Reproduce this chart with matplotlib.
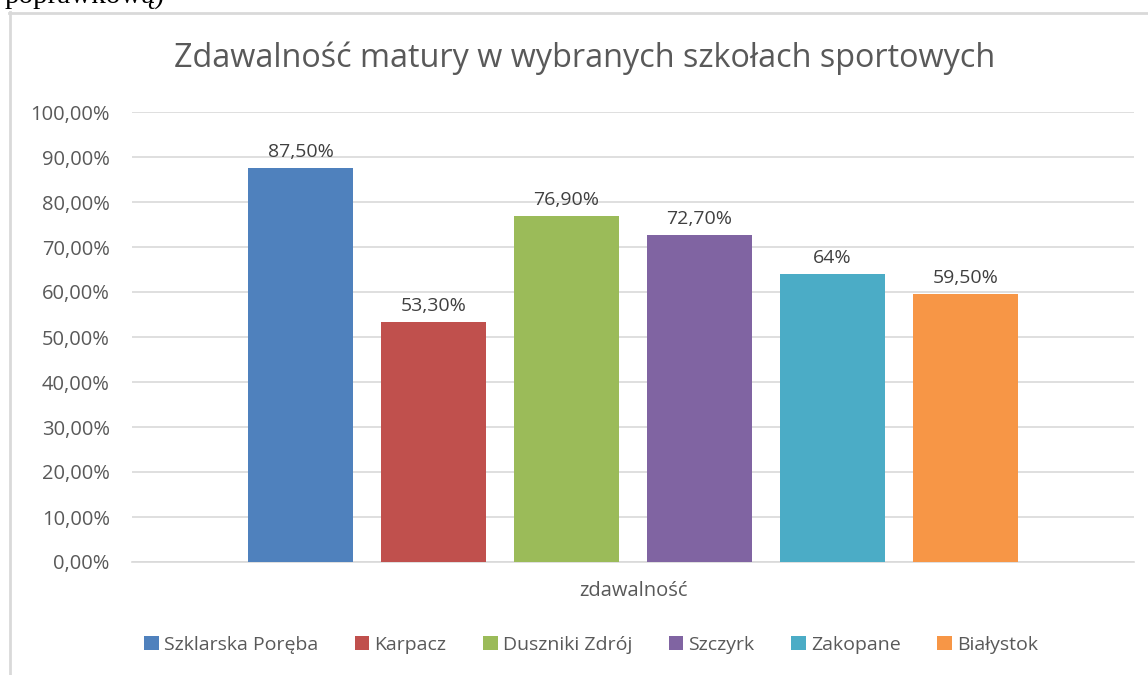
from matplotlib import pyplot as plt
from matplotlib.lines import Line2D
from matplotlib.patches import Patch
from matplotlib.ticker import FuncFormatter
import numpy as np

# data
schools = ['Szklarska Poręba', 'Karpacz', 'Duszniki Zdrój', 'Szczyrk', 'Zakopane', 'Białystok']
pass_rate = [0.875, 0.533, 0.769, 0.727, 0.64, 0.595]
value_labels = ['87,50%', '53,30%', '76,90%', '72,70%', '64%', '59,50%']
category = 'zdawalność'
colors = ['#4F81BD', '#C0504D', '#9BBB59', '#8064A2', '#4BACC6', '#F79646']

W, H = 1148, 675
txt = '#595959'
font = ['Open Sans', 'DejaVu Sans']

fig = plt.figure(figsize=(W / 100, H / 100), dpi=100)
ax = fig.add_axes([132 / W, (H - 562) / H, (1134 - 132) / W, (562 - 112) / H])

# one category, six bars side by side
n = len(schools)
step = 133.0 / 1002
width = 105.0 / 1002
offsets = (np.arange(n) - (n - 1) / 2) * step
for i in range(n):
    b = ax.bar(0.5 + offsets[i], pass_rate[i], width=width, color=colors[i], zorder=3)
    ax.bar_label(b, labels=[value_labels[i]], padding=5, fontsize=14,
                 color='#404040', family=font)

ax.set_xlim(0, 1)
ax.set_ylim(0, 1.0)
ax.set_yticks(np.arange(0, 1.01, 0.1))
ax.yaxis.set_major_formatter(FuncFormatter(lambda v, p: f'{v * 100:.2f}%'.replace('.', ',')))
ax.set_xticks([0.5])
ax.set_xticklabels([category])
ax.tick_params(axis='both', length=0, labelsize=14.5, labelcolor=txt)
ax.tick_params(axis='x', pad=14)
ax.tick_params(axis='y', pad=16)
for lab in ax.get_xticklabels() + ax.get_yticklabels():
    lab.set_family(font)
ax.grid(axis='y', color='#D9D9D9', linewidth=1.2, zorder=0)
for s in ['top', 'right', 'left']:
    ax.spines[s].set_visible(False)
ax.spines['bottom'].set_color('#D9D9D9')
ax.spines['bottom'].set_linewidth(1.2)

fig.text(585 / W, 1 - 58 / H, 'Zdawalność matury w wybranych szkołach sportowych',
         ha='center', va='center', fontsize=23.3, color=txt, family=font)

handles = [Patch(facecolor=c) for c in colors]
fig.legend(handles, schools, loc='center', bbox_to_anchor=(591 / W, 1 - 645 / H),
           ncol=n, frameon=False, labelcolor=txt, prop={'family': font, 'size': 14},
           handlelength=0.75, handleheight=0.75, handletextpad=0.25, columnspacing=1.9)

# chart border and clipped text from the page above it
fig.add_artist(Line2D([9 / W, 1], [1 - 12.5 / H, 1 - 12.5 / H], color='#D9D9D9', lw=2))
fig.add_artist(Line2D([9.5 / W, 9.5 / W], [0, 1 - 12 / H], color='#D9D9D9', lw=2))
fig.text(5 / W, 1 - 3 / H, 'poprawkową)', ha='left', va='baseline', fontsize=21,
         color='black', family='Liberation Serif')

fig.savefig('out.png', dpi=100)
